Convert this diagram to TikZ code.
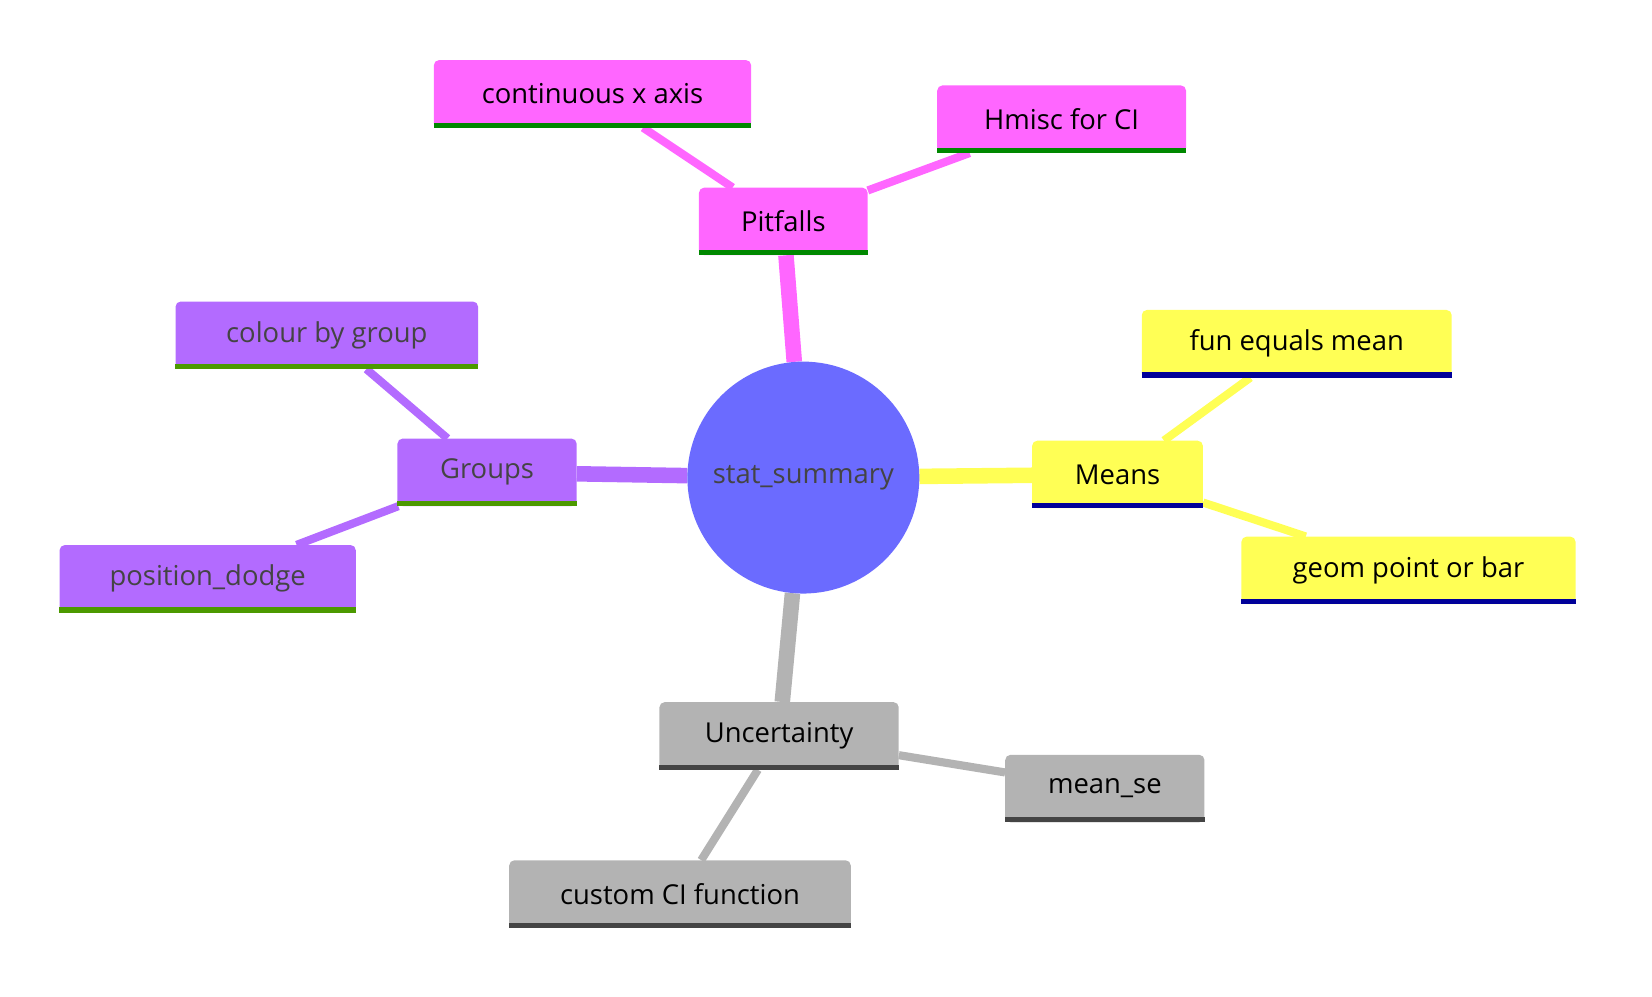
\documentclass[tikz,border=0pt]{standalone}
\usepackage{fontspec}
\setmainfont{Open Sans}
\usetikzlibrary{backgrounds}
\definecolor{pk}{HTML}{FF66FF}\definecolor{gr}{HTML}{008800}
\definecolor{pu}{HTML}{B36BFF}\definecolor{pg}{HTML}{4C9900}
\definecolor{ye}{HTML}{FFFF55}\definecolor{bl}{HTML}{000099}
\definecolor{gy}{HTML}{B3B3B3}\definecolor{dg}{HTML}{444444}
\definecolor{ro}{HTML}{6B6BFF}
\begin{document}
\begin{tikzpicture}[x=0.05cm,y=-0.05cm,
 box/.style={fill=#1,rounded corners=7pt,minimum height=3.2cm,inner sep=0pt,font=\fontsize{37}{40}\selectfont},
 ul/.style={line width=7pt},
 e1/.style={line width=21pt},
 e2/.style={line width=11pt}]
\useasboundingbox (0,0) rectangle (1567,945);
\node[circle,fill=ro,minimum size=11cm,inner sep=0pt,text=dg,font=\fontsize{37}{40}\selectfont] (root) at (762,453) {stat\_summary};
\node[box=pk,minimum width=8cm] (pit) at (743,210) {Pitfalls};
\node[box=pk,minimum width=15.05cm] (cont) at (562,89) {continuous x axis};
\node[box=pk,minimum width=11.8cm] (hm) at (1007,113) {Hmisc for CI};
\node[box=pu,minimum width=14.35cm,text=dg] (col) at (310,318) {colour by group};
\node[box=pu,minimum width=8.5cm,text=dg] (grp) at (462,448) {Groups};
\node[box=pu,minimum width=14.05cm,text=dg] (pos) at (197,549) {position\_dodge};
\node[box=ye,minimum width=8.1cm] (mea) at (1060,450) {Means};
\node[box=ye,minimum width=14.7cm] (fun) at (1230,326) {fun equals mean};
\node[box=ye,minimum width=15.85cm] (geo) at (1336,541) {geom point or bar};
\node[box=gy,minimum width=11.35cm] (unc) at (739,698) {Uncertainty};
\node[box=gy,minimum width=9.45cm] (mse) at (1048,748) {mean\_se};
\node[box=gy,minimum width=16.2cm] (cus) at (645,848) {custom CI function};
\foreach \n/\c in {pit/gr,cont/gr,hm/gr,col/pg,grp/pg,pos/pg,mea/bl,fun/bl,geo/bl,unc/dg,mse/dg,cus/dg}
  \draw[ul,\c] ([yshift=3.5pt]\n.south west) -- ([yshift=3.5pt]\n.south east);
\begin{scope}[on background layer]
\draw[e1,pk] (root) -- (pit);
\draw[e2,pk] (pit) -- (cont); \draw[e2,pk] (pit) -- (hm);
\draw[e1,pu] (root) -- (grp);
\draw[e2,pu] (grp) -- (col); \draw[e2,pu] (grp) -- (pos);
\draw[e1,ye] (root) -- (mea);
\draw[e2,ye] (mea) -- (fun); \draw[e2,ye] (mea) -- (geo);
\draw[e1,gy] (root) -- (unc);
\draw[e2,gy] (unc) -- (mse); \draw[e2,gy] (unc) -- (cus);
\end{scope}
\end{tikzpicture}
\end{document}
